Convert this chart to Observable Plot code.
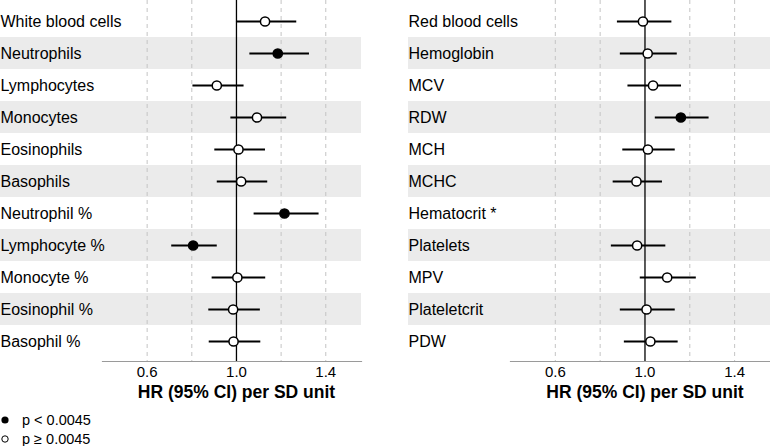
<!DOCTYPE html>
<html>
<head>
<meta charset="utf-8">
<script src="https://cdn.jsdelivr.net/npm/d3@7"></script>
<script src="https://cdn.jsdelivr.net/npm/@observablehq/plot@0.6"></script>
<style>
  html, body { margin: 0; padding: 0; background: #fff; }
  #wrap { position: relative; width: 770px; height: 446px; font-family: "Liberation Sans", Arial, sans-serif; }
  #left { position: absolute; left: 0; top: 0; }
  #right { position: absolute; left: 385px; top: 0; }
  #legend { position: absolute; left: 0; top: 405px; }
</style>
</head>
<body>
<div id="wrap">
  <div id="left"></div>
  <div id="right"></div>
  <svg id="legend" width="140" height="41" font-family="'Liberation Sans', Arial, sans-serif" font-size="14.5">
    <circle cx="5" cy="15" r="3.6" fill="#000"/>
    <text x="22" y="19.5" fill="#000">p &lt; 0.0045</text>
    <circle cx="5" cy="34" r="3.2" fill="#fff" stroke="#000" stroke-width="1"/>
    <text x="22" y="38.5" fill="#000">p ≥ 0.0045</text>
  </svg>
</div>
<script>
// ---- Data ----
const leftLabels = ["White blood cells","Neutrophils","Lymphocytes","Monocytes","Eosinophils","Basophils","Neutrophil %","Lymphocyte %","Monocyte %","Eosinophil %","Basophil %"];
const leftHR  = [1.128, 1.185, 0.912, 1.092, 1.009, 1.021, 1.215, 0.806, 1.004, 0.985, 0.987];
const leftLo  = [1.000, 1.060, 0.805, 0.975, 0.903, 0.914, 1.079, 0.710, 0.891, 0.876, 0.878];
const leftHi  = [1.270, 1.327, 1.034, 1.225, 1.130, 1.140, 1.370, 0.914, 1.131, 1.107, 1.109];
const leftSig = [false, true, false, false, false, false, true, true, false, false, false];

const rightLabels = ["Red blood cells","Hemoglobin","MCV","RDW","MCH","MCHC","Hematocrit *","Platelets","MPV","Plateletcrit","PDW"];
const rightHR  = [0.991, 1.012, 1.036, 1.160, 1.013, 0.962, null, 0.965, 1.099, 1.007, 1.024];
const rightLo  = [0.877, 0.890, 0.924, 1.046, 0.901, 0.858, null, 0.850, 0.979, 0.890, 0.908];
const rightHi  = [1.120, 1.144, 1.163, 1.286, 1.135, 1.078, null, 1.093, 1.229, 1.135, 1.148];
const rightSig = [false, false, false, true, false, false, false, false, false, false, false];

const xDomain = [0.4, 1.56];
const gridTicks = [0.6, 0.8, 1.2, 1.4];
const labelTicks = [0.6, 1.0, 1.4];
const refValue = 1.0;
const axisTitle = "HR (95% CI) per SD unit";

function panel(labels, hr, lo, hi, sig, opts) {
  const rows = labels.map((label, i) => ({label, hr: hr[i], lo: lo[i], hi: hi[i], sig: sig[i], i}));
  const est = rows.filter(d => d.hr != null);
  const bands = rows.filter(d => d.i % 2 === 1);
  return Plot.plot({
    width: 385,
    height: 410,
    marginTop: 0,
    marginBottom: 49,
    marginLeft: opts.ml,
    marginRight: opts.mr,
    style: {fontFamily: "'Liberation Sans', Arial, sans-serif", fontSize: "15px", color: "#000", background: "transparent", overflow: "visible"},
    x: {domain: xDomain, ticks: labelTicks, tickFormat: d3.format(".1f"), tickSize: 0, tickPadding: 5, label: null},
    y: {domain: labels, axis: null, padding: 0},
    marks: [
      Plot.barX(bands, {y: "label", x1: () => xDomain[0], x2: () => xDomain[1], fill: "#ebebeb", insetLeft: -(opts.ml - opts.lx)}),
      Plot.ruleX(gridTicks, {stroke: "#c4c4c4", strokeWidth: 1, strokeDasharray: "4,4"}),
      Plot.ruleX([refValue], {stroke: "#000", strokeWidth: 1.3}),
      Plot.frame({anchor: "bottom", stroke: "#9a9a9a", strokeWidth: 1.2}),
      Plot.ruleY(est, {y: "label", x1: "lo", x2: "hi", stroke: "#000", strokeWidth: 2}),
      Plot.dot(est, {x: "hr", y: "label", r: 4.6, fill: d => d.sig ? "#000" : "#fff", stroke: "#000", strokeWidth: 1.5}),
      Plot.text(labels, {y: d => d, frameAnchor: "left", textAnchor: "start", dx: -(opts.ml - opts.lx), fontSize: 16, fill: "#000"}),
      Plot.text([axisTitle], {x: () => refValue, text: d => d, frameAnchor: "bottom", dy: 36, fontWeight: "bold", fontSize: 17.5, fill: "#000"})
    ]
  });
}

document.getElementById("left").append(panel(leftLabels, leftHR, leftLo, leftHi, leftSig, {ml: 102, mr: 24, lx: 0}));
document.getElementById("right").append(panel(rightLabels, rightHR, rightLo, rightHi, rightSig, {ml: 125, mr: 0, lx: 23}));
</script>
</body>
</html>
